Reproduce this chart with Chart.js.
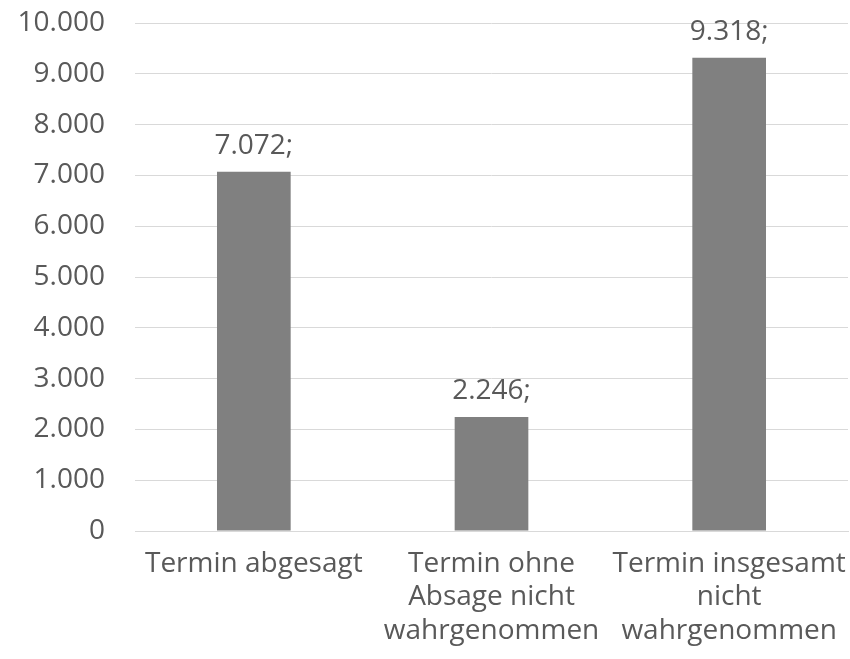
<!DOCTYPE html>
<html>
<head>
<meta charset="utf-8">
<script src="https://cdn.jsdelivr.net/npm/chart.js@4"></script>
<style>
  html, body { margin: 0; padding: 0; background: #fff; }
  #wrap { width: 850px; height: 659px; }
</style>
</head>
<body>
<div id="wrap"><canvas id="terminChart"></canvas></div>
<script>
// categories (one array per label, one entry per line)
const categories = [
  ["Termin abgesagt"],
  ["Termin ohne", "Absage nicht", "wahrgenommen"],
  ["Termin insgesamt", "nicht", "wahrgenommen"],
];
const values = [7072, 2246, 9318];
const yMax = 10000;
const yStep = 1000;

const textColor = "#595959";
const fontFamily = "'Open Sans', 'Noto Sans', sans-serif";

// German thousands separator
function formatDe(n) {
  return String(n).replace(/\B(?=(\d{3})+(?!\d))/g, ".");
}

const valueLabels = {
  id: "valueLabels",
  afterDatasetsDraw(chart) {
    const ctx = chart.ctx;
    const meta = chart.getDatasetMeta(0);
    ctx.save();
    ctx.font = "28px " + fontFamily;
    ctx.fillStyle = textColor;
    ctx.textAlign = "center";
    ctx.textBaseline = "bottom";
    meta.data.forEach((bar, i) => {
      ctx.fillText(formatDe(values[i]) + ";", bar.x, bar.y - 12);
    });
    ctx.restore();
  },
};

new Chart(document.getElementById("terminChart"), {
  type: "bar",
  data: {
    labels: categories,
    datasets: [
      {
        data: values,
        backgroundColor: "#808080",
        borderWidth: 0,
        categoryPercentage: 1,
        barPercentage: 0.31,
      },
    ],
  },
  options: {
    responsive: true,
    maintainAspectRatio: false,
    animation: false,
    layout: { padding: { top: 23, right: 2, left: 0, bottom: 0 } },
    plugins: {
      legend: { display: false },
      tooltip: { enabled: false },
    },
    scales: {
      x: {
        grid: { display: false, drawTicks: false },
        border: { display: true, color: "#d9d9d9", width: 1 },
        ticks: {
          color: textColor,
          font: { family: fontFamily, size: 28, lineHeight: 1.2 },
          padding: 16,
          maxRotation: 0,
          autoSkip: false,
        },
        afterFit(scale) {
          scale.height = 128;
          scale.paddingLeft = 0;
          scale.paddingRight = 0;
        },
      },
      y: {
        min: 0,
        max: yMax,
        grid: { color: "#d9d9d9", lineWidth: 1, drawTicks: false },
        border: { display: false },
        ticks: {
          stepSize: yStep,
          color: textColor,
          font: { family: fontFamily, size: 28 },
          padding: 30,
          callback: (v) => formatDe(v),
        },
        afterFit(scale) {
          scale.width = 135;
          scale.paddingTop = 0;
          scale.paddingBottom = 0;
        },
      },
    },
  },
  plugins: [valueLabels],
});
</script>
</body>
</html>
